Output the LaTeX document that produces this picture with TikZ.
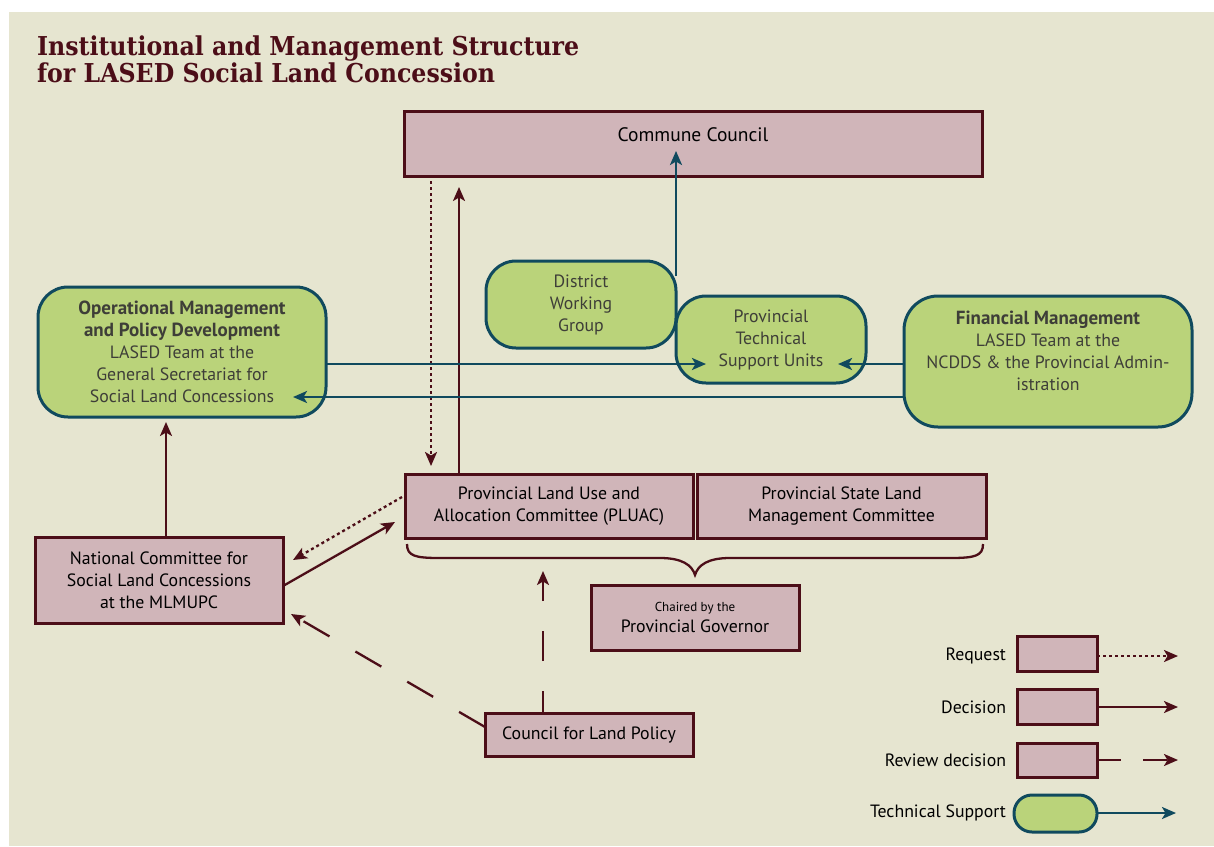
\documentclass[tikz,border=0pt]{standalone}
\usepackage{fontspec}
\setmainfont{PT Sans}
\newfontfamily\titlefont{DejaVu Serif}
\usetikzlibrary{arrows.meta,calc}
\definecolor{paper}{RGB}{230,229,208}
\definecolor{wine}{RGB}{76,14,24}
\definecolor{rosefill}{RGB}{208,181,185}
\definecolor{leaf}{RGB}{186,211,122}
\definecolor{petrol}{RGB}{16,74,94}
\definecolor{inkgrey}{RGB}{62,62,56}
\newcommand{\hd}[1]{{\fontsize{19}{22}\selectfont\bfseries #1}}
\begin{document}
\begin{tikzpicture}[x=1pt,y=-1pt,
  every node/.style={inner sep=0pt,outer sep=0pt},
  body/.style={font=\fontsize{17.8}{22}\selectfont},
  rbox/.style={body,draw=wine,fill=rosefill,line width=3pt,rectangle,align=center,text=black},
  gbox/.style={body,draw=petrol,fill=leaf,line width=3pt,rectangle,rounded corners=30pt,align=center,text=inkgrey},
  tip/.style={-{Stealth[length=14pt,width=12pt,inset=3.5pt]}},
  request/.style={tip,draw=wine,line width=2.3pt,dash pattern=on 3pt off 3pt},
  decision/.style={tip,draw=wine,line width=2.3pt},
  review/.style={tip,draw=wine,line width=2.3pt,dash pattern=on 30pt off 30pt},
  support/.style={tip,draw=petrol,line width=2.5pt},
  legend/.style={body,anchor=east,text=black},
  titletext/.style={font=\titlefont\bfseries\fontsize{26}{30}\selectfont,text=wine,anchor=base west}
]
% page and panel
\useasboundingbox (0,0) rectangle (1214,846);
\fill[white] (0,0) rectangle (1214,846);
\fill[paper] (9,12) rectangle (1214,846);

% heading
\node[titletext] (title1) at (37,55) {\scalebox{0.91}[1]{Institutional and Management Structure}};
\node[titletext] (title2) at (37,82) {\scalebox{0.91}[1]{for LASED Social Land Concession}};

% committees and councils
\node[rbox,minimum width=578pt,minimum height=65pt] (cc) at (693,143.5) {};
\node[body,font=\fontsize{19.5}{24}\selectfont] (cct) at (693,135) {Commune Council};
\node[rbox,minimum width=288pt,minimum height=64pt] (pluac) at (549,506)
  {Provincial Land Use and\\Allocation Committee (PLUAC)};
\node[rbox,minimum width=289pt,minimum height=64pt] (pslmc) at (841.5,506)
  {Provincial State Land\\Management Committee};
\node[rbox,minimum width=208pt,minimum height=65pt] (chair) at (695,617.5)
  {{\fontsize{13}{15}\selectfont Chaired by the}\\[-1pt]Provincial Governor};
\node[rbox,minimum width=248pt,minimum height=86pt] (nat) at (159,580)
  {National Committee for\\Social Land Concessions\\at the MLMUPC};
\node[rbox,minimum width=208pt,minimum height=43pt] (clp) at (589,734.5)
  {Council for Land Policy};

% technical support units
\node[gbox,minimum width=288pt,minimum height=130pt] (op) at (182,352)
  {\hd{Operational Management}\\\hd{and Policy Development}\\LASED Team at the\\General Secretariat for\\Social Land Concessions};
\node[gbox,minimum width=190pt,minimum height=87pt] (dwg) at (581,304.5)
  {District\\Working\\Group};
\node[gbox,minimum width=190pt,minimum height=87pt] (ptsu) at (771,339.5)
  {Provincial\\Technical\\Support Units};
\node[gbox,minimum width=288pt,minimum height=131pt,rounded corners=34pt] (fin) at (1048,361.5) {};
\node[body,align=center,text=inkgrey] (fint) at (1048,351)
  {\hd{Financial Management}\\LASED Team at the\\NCDDS \& the Provincial Admin-\\istration};

% brace grouping the two provincial committees
\draw[wine,line width=2.3pt] (407,544) .. controls (407,556) and (415,558) .. (440,558)
  -- (660,558) .. controls (682,558) and (692,565) .. (695,575)
  .. controls (698,565) and (708,558) .. (730,558)
  -- (950,558) .. controls (975,558) and (983,556) .. (983,544);

% flows between the bodies
\draw[request] ($(cc.south west)+(27,5)$) -- ($(pluac.north west)+(26,-8)$);
\draw[decision] ($(pluac.north west)+(54,0)$) -- ($(cc.south west)+(55,11)$);
\draw[support] ($(dwg.north east)+(0,15)$) -- ($(cc.south west)+(272,-25)$);
\draw[support] ($(op.east)+(0,12)$) -- ($(ptsu.south west)+(30,-19)$);
\draw[support] ($(fin.west)+(0,2.5)$) -- ($(ptsu.south east)+(-28,-19)$);
\draw[support] ($(fin.west)+(0,35.5)$) -- ($(op.south east)+(-33,-20)$);
\draw[decision] ($(nat.north west)+(131,0)$) -- ($(op.south west)+(128,5)$);
\draw[request] ($(pluac.west)+(-3,-9)$) -- ($(nat.north east)+(10,23)$);
\draw[decision] ($(nat.east)+(0,6)$) -- ($(pluac.south west)+(-10,-16)$);
\draw[review] ($(clp.north west)+(0,14)$) -- ($(nat.south east)+(8,-9)$);
\draw[review,dash phase=8pt] ($(clp.north west)+(58,0)$) -- ($(pluac.south west)+(138,33)$);

% key
\node[rbox,minimum width=80pt,minimum height=35pt] (kreq) at (1057,653.5) {};
\node[rbox,minimum width=80pt,minimum height=35pt] (kdec) at (1057,706.5) {};
\node[rbox,minimum width=80pt,minimum height=34pt] (krev) at (1057,760) {};
\node[gbox,minimum width=83pt,minimum height=37pt,rounded corners=18pt] (ktec) at (1055.5,813.5) {};
\node[legend] (lreq) at (1006,656) {Request};
\node[legend] (ldec) at (1006,707) {Decision};
\node[legend] (lrev) at (1006,760) {Review decision};
\node[legend] (ltec) at (1006,813) {Technical Support};
\coordinate (ereq) at (1178,656);
\coordinate (edec) at (1178,707);
\coordinate (erev) at (1178,760);
\coordinate (etec) at (1176,813);
\draw[request] ($(kreq.east)+(0,2.5)$) -- (ereq);
\draw[decision] ($(kdec.east)+(0,0.5)$) -- (edec);
\draw[review,dash pattern=on 24pt off 22pt] (krev.east) -- (erev);
\draw[support] ($(ktec.east)+(0,-0.5)$) -- (etec);
\end{tikzpicture}
\end{document}
